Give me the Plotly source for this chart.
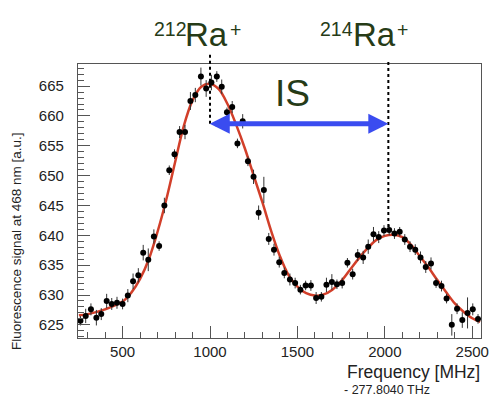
import plotly.graph_objects as go

# ---- data ----
freq = [259, 289, 319, 350, 378, 409, 438, 468, 500, 530, 560, 590, 618, 647, 679, 709, 739, 767, 797, 826,
        857, 888, 916, 948, 978, 1008, 1039, 1067, 1097, 1127, 1157, 1187, 1217, 1249, 1278, 1308,
        1336, 1366, 1396, 1425,
        1457, 1487, 1517, 1547, 1577, 1607, 1637, 1666, 1697, 1726, 1756, 1786, 1816, 1845, 1876, 1905, 1935, 1965, 1995,
        2025, 2055, 2085, 2114, 2144, 2174, 2204, 2234, 2264, 2293, 2324, 2353, 2383, 2413, 2443, 2473, 2503, 2533]
signal = [625.7, 626.5, 627.6, 626.2, 626.8, 629.0, 628.5, 628.7, 628.5, 629.9, 632.3, 633.3, 637.1, 635.9, 639.8, 638.2, 645.0, 650.9, 653.6, 657.3,
          657.3, 662.5, 663.5, 666.6, 664.6, 665.6, 666.6, 664.9, 660.6, 661.5, 655.4, 659.1, 652.4, 649.8, 643.8, 647.6,
          639.4, 637.6, 635.5, 633.7,
          632.6, 632.0, 630.9, 631.6, 631.6, 629.5, 629.7, 631.7, 632.2, 631.8, 632.0, 635.4, 633.5, 636.7, 636.3, 638.1, 640.2, 639.7, 640.8,
          640.9, 640.3, 640.6, 639.3, 638.1, 637.6, 636.3, 634.7, 635.3, 632.0, 631.5, 629.4, 625.0, 627.7, 625.8, 627.0, 627.6, 626.0]
errors = [0.8, 1.2, 1.0, 1.3, 1.0, 1.2, 1.0, 1.0, 0.9, 1.1, 1.3, 1.2, 1.3, 1.9, 1.2, 0.8, 1.3, 0.8, 0.8, 1.0,
          1.2, 1.5, 1.2, 1.5, 1.4, 1.3, 0.9, 1.2, 0.8, 1.0, 0.8, 1.2, 0.8, 1.2, 1.2, 2.2,
          1.0, 1.0, 0.9, 0.9,
          1.0, 0.9, 0.8, 0.8, 0.9, 1.0, 0.8, 1.2, 1.3, 0.8, 0.9, 0.8, 0.9, 1.0, 1.1, 1.2, 1.2, 1.0, 0.9,
          0.9, 0.9, 0.8, 0.9, 0.9, 0.9, 1.0, 1.0, 1.0, 0.8, 0.9, 0.8, 1.8, 0.9, 1.3, 2.6, 1.0, 0.8]

fit_freq = [250, 300, 400, 500, 550, 600, 650, 700, 750, 800, 850, 900, 950, 1000, 1050, 1100, 1150, 1200, 1250,
            1300, 1350, 1400, 1450, 1500, 1550, 1600, 1650, 1700, 1750, 1800, 1850, 1900, 1950, 2000, 2050,
            2100, 2150, 2200, 2250, 2300, 2350, 2400, 2450, 2500, 2545]
fit_signal = [626.6, 626.8, 627.6, 628.9, 630.4, 632.7, 636.0, 640.6, 646.0, 652.2, 658.3, 662.6, 664.9, 665.4, 664.5,
              662.0, 658.5, 654.5, 650.0, 645.5, 640.7, 636.5, 633.3, 631.4, 630.3, 629.9, 630.1, 630.9, 632.3,
              634.2, 636.1, 637.8, 639.2, 639.9, 640.1, 639.7, 638.4, 636.5, 634.6, 632.5, 630.5, 628.6, 627.2,
              626.1, 625.5]

peak_212 = 1000
peak_214 = 2020
arrow_level = 658.7

x_ticks = [500, 1000, 1500, 2000, 2500]
y_ticks = [625, 630, 635, 640, 645, 650, 655, 660, 665]

FONT = "Arial, Liberation Sans, sans-serif"
GREEN = "#263b17"

fig = go.Figure()
fig.add_trace(go.Scatter(
    x=fit_freq, y=fit_signal, mode="lines",
    line=dict(color="#d23f2a", width=2.5, shape="spline", smoothing=1.0),
    hoverinfo="skip", showlegend=False))
fig.add_trace(go.Scatter(
    x=freq, y=signal, mode="markers",
    marker=dict(color="black", size=6),
    error_y=dict(type="data", array=errors, visible=True, color="#333333", thickness=1, width=0),
    showlegend=False))

# dotted isotope lines (x in data, y in paper so they may rise above the frame)
fig.add_shape(type="line", xref="x", yref="paper", x0=peak_212, x1=peak_212,
              y0=0.782, y1=1.040, line=dict(color="black", width=2, dash="dot"))
fig.add_shape(type="line", xref="x", yref="paper", x0=peak_214, x1=peak_214,
              y0=0.405, y1=1.015, line=dict(color="black", width=2, dash="dot"))

# IS arrow
fig.add_annotation(x=peak_214, y=arrow_level, ax=peak_212 - 10, ay=arrow_level,
                   xref="x", yref="y", axref="x", ayref="y", text="",
                   showarrow=True, arrowhead=2, arrowside="end+start",
                   arrowsize=0.8, arrowwidth=5, arrowcolor="#3a4cf0")

fig.add_annotation(x=1470, y=663.8, xref="x", yref="y", text="IS", showarrow=False,
                   font=dict(family=FONT, size=37, color=GREEN))

# isotope labels built from pieces so the superscripts sit at cap height
def isotope_label(mass, x_mass, x_ra, x_plus):
    fig.add_annotation(x=x_mass, y=1.080, xref="paper", yref="paper", xanchor="left", yanchor="bottom",
                       text=mass, showarrow=False, font=dict(family=FONT, size=19.5, color=GREEN))
    fig.add_annotation(x=x_ra, y=1.033, xref="paper", yref="paper", xanchor="left", yanchor="bottom",
                       text="Ra", showarrow=False, font=dict(family=FONT, size=33, color=GREEN))
    fig.add_annotation(x=x_plus, y=1.075, xref="paper", yref="paper", xanchor="left", yanchor="bottom",
                       text="+", showarrow=False, font=dict(family=FONT, size=19.5, color=GREEN))

isotope_label("212", 0.1825, 0.2613, 0.3723)
isotope_label("214", 0.596, 0.677, 0.786)

# axis titles
fig.add_annotation(x=1.0, y=-0.083, xref="paper", yref="paper", xanchor="right", yanchor="top",
                   text="Frequency [MHz]", showarrow=False, borderpad=0,
                   font=dict(family=FONT, size=17.5, color="#222222"))
fig.add_annotation(x=0.657, y=-0.219, xref="paper", yref="paper", xanchor="left", yanchor="bottom",
                   text="- 277.8040 THz", showarrow=False, borderpad=0,
                   font=dict(family=FONT, size=12.5, color="#222222"))
fig.add_annotation(x=-0.153, y=0.355, xref="paper", yref="paper", xanchor="center", yanchor="middle",
                   textangle=-90,
                   text="Fluorescence signal at 468 nm [a.u.]", showarrow=False,
                   font=dict(family=FONT, size=13.5, color="#222222"))

axis_common = dict(showgrid=False, zeroline=False, showline=True, linecolor="#555555", linewidth=1.2,
                   mirror=True, ticks="inside", tickcolor="#555555", ticklen=12, tickwidth=1,
                   tickfont=dict(family=FONT, size=15, color="#222222"))
fig.update_xaxes(range=[245, 2550], tickvals=x_ticks, ticktext=[str(v) for v in x_ticks],
                 minor=dict(dtick=100, tick0=0, ticks="inside", ticklen=6, tickcolor="#555555"),
                 **axis_common)
fig.update_yaxes(range=[622.8, 668.7], tickvals=y_ticks, ticktext=[str(v) for v in y_ticks],
                 minor=dict(dtick=1, tick0=0, ticks="inside", ticklen=6, tickcolor="#555555"),
                 ticklabelstandoff=10, **axis_common)

fig.update_layout(width=499, height=396, margin=dict(l=78, r=10, t=64, b=58),
                  paper_bgcolor="white", plot_bgcolor="white", showlegend=False)

fig.write_html("out.html", config={"displayModeBar": False},
               post_script="document.body.style.margin='0';")
